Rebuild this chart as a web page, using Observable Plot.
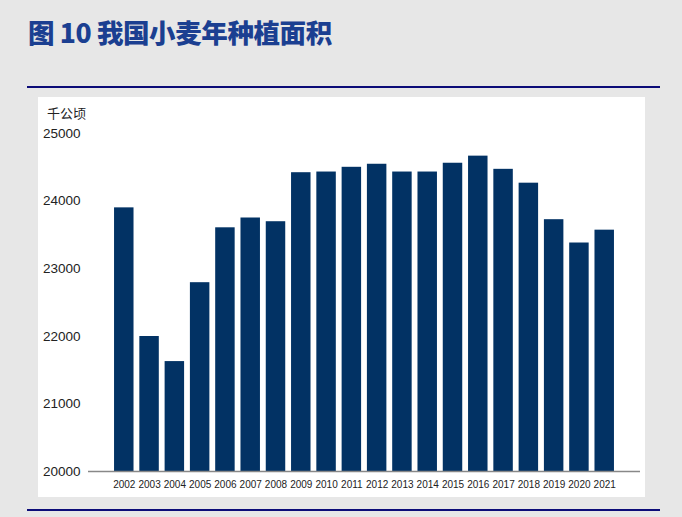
<!DOCTYPE html>
<html>
<head>
<meta charset="utf-8">
<script src="https://cdn.jsdelivr.net/npm/d3@7"></script>
<script src="https://cdn.jsdelivr.net/npm/@observablehq/plot@0.6"></script>
<style>
  html, body { margin: 0; padding: 0; }
  body { width: 682px; height: 517px; background: #e7e7e7; position: relative; overflow: hidden; font-family: "Liberation Sans", Arial, sans-serif; }
  #title { position: absolute; left: 28px; top: 12px; font-family: "Noto Sans CJK SC", sans-serif; font-weight: 900; font-size: 26.5px; color: #1b3f91; letter-spacing: -0.4px; white-space: nowrap; }
  .rule { position: absolute; left: 27px; width: 633px; height: 2px; background: #0c0c78; }
  #panel { position: absolute; left: 38px; top: 97px; width: 607px; height: 400px; background: #ffffff; }
  #unit { position: absolute; left: 9px; top: 6px; font-family: "Noto Sans CJK SC", sans-serif; font-size: 13px; color: #222; }
  #chart { position: absolute; left: 0; top: 0; }
</style>
</head>
<body>
<div id="title">图 10 我国小麦年种植面积</div>
<div class="rule" style="top:86px"></div>
<div id="panel">
  <div id="chart"></div>
  <div id="unit">千公顷</div>
</div>
<div class="rule" style="top:509px"></div>
<script>
const years = ["2002","2003","2004","2005","2006","2007","2008","2009","2010","2011","2012","2013","2014","2015","2016","2017","2018","2019","2020","2021"];
const area = [23900, 21997, 21626, 22793, 23605, 23750, 23695, 24420, 24430, 24500, 24545, 24430, 24430, 24560, 24665, 24470, 24265, 23725, 23380, 23570];
const yTicks = [20000, 21000, 22000, 23000, 24000, 25000];

const data = years.map((y, i) => ({year: y, value: area[i]}));

const chart = Plot.plot({
  width: 607,
  height: 400,
  marginLeft: 50,
  marginRight: 5,
  marginTop: 36,
  marginBottom: 26,
  style: {background: "transparent", fontFamily: "'Liberation Sans Narrow', 'Liberation Sans', Arial, sans-serif", color: "#222"},
  x: {type: "band", domain: years, paddingInner: 0.23, paddingOuter: 1.03, round: false, label: null, tickSize: 0, tickPadding: 9},
  y: {domain: [20000, 25000], ticks: yTicks, tickFormat: d3.format("d"), label: null, tickSize: 0, tickPadding: 8},
  marks: [
    Plot.barY(data, {x: "year", y1: 20000, y2: "value", fill: "#023264"}),
    Plot.ruleY([20000], {stroke: "#888888", strokeWidth: 1.5}),
    Plot.axisX({tickSize: 0, tickPadding: 9, fontSize: 10, label: null}),
    Plot.axisY({ticks: yTicks, tickFormat: d3.format("d"), tickSize: 0, tickPadding: 8, fontSize: 13.5, label: null})
  ]
});
document.getElementById("chart").appendChild(chart);
</script>
</body>
</html>
